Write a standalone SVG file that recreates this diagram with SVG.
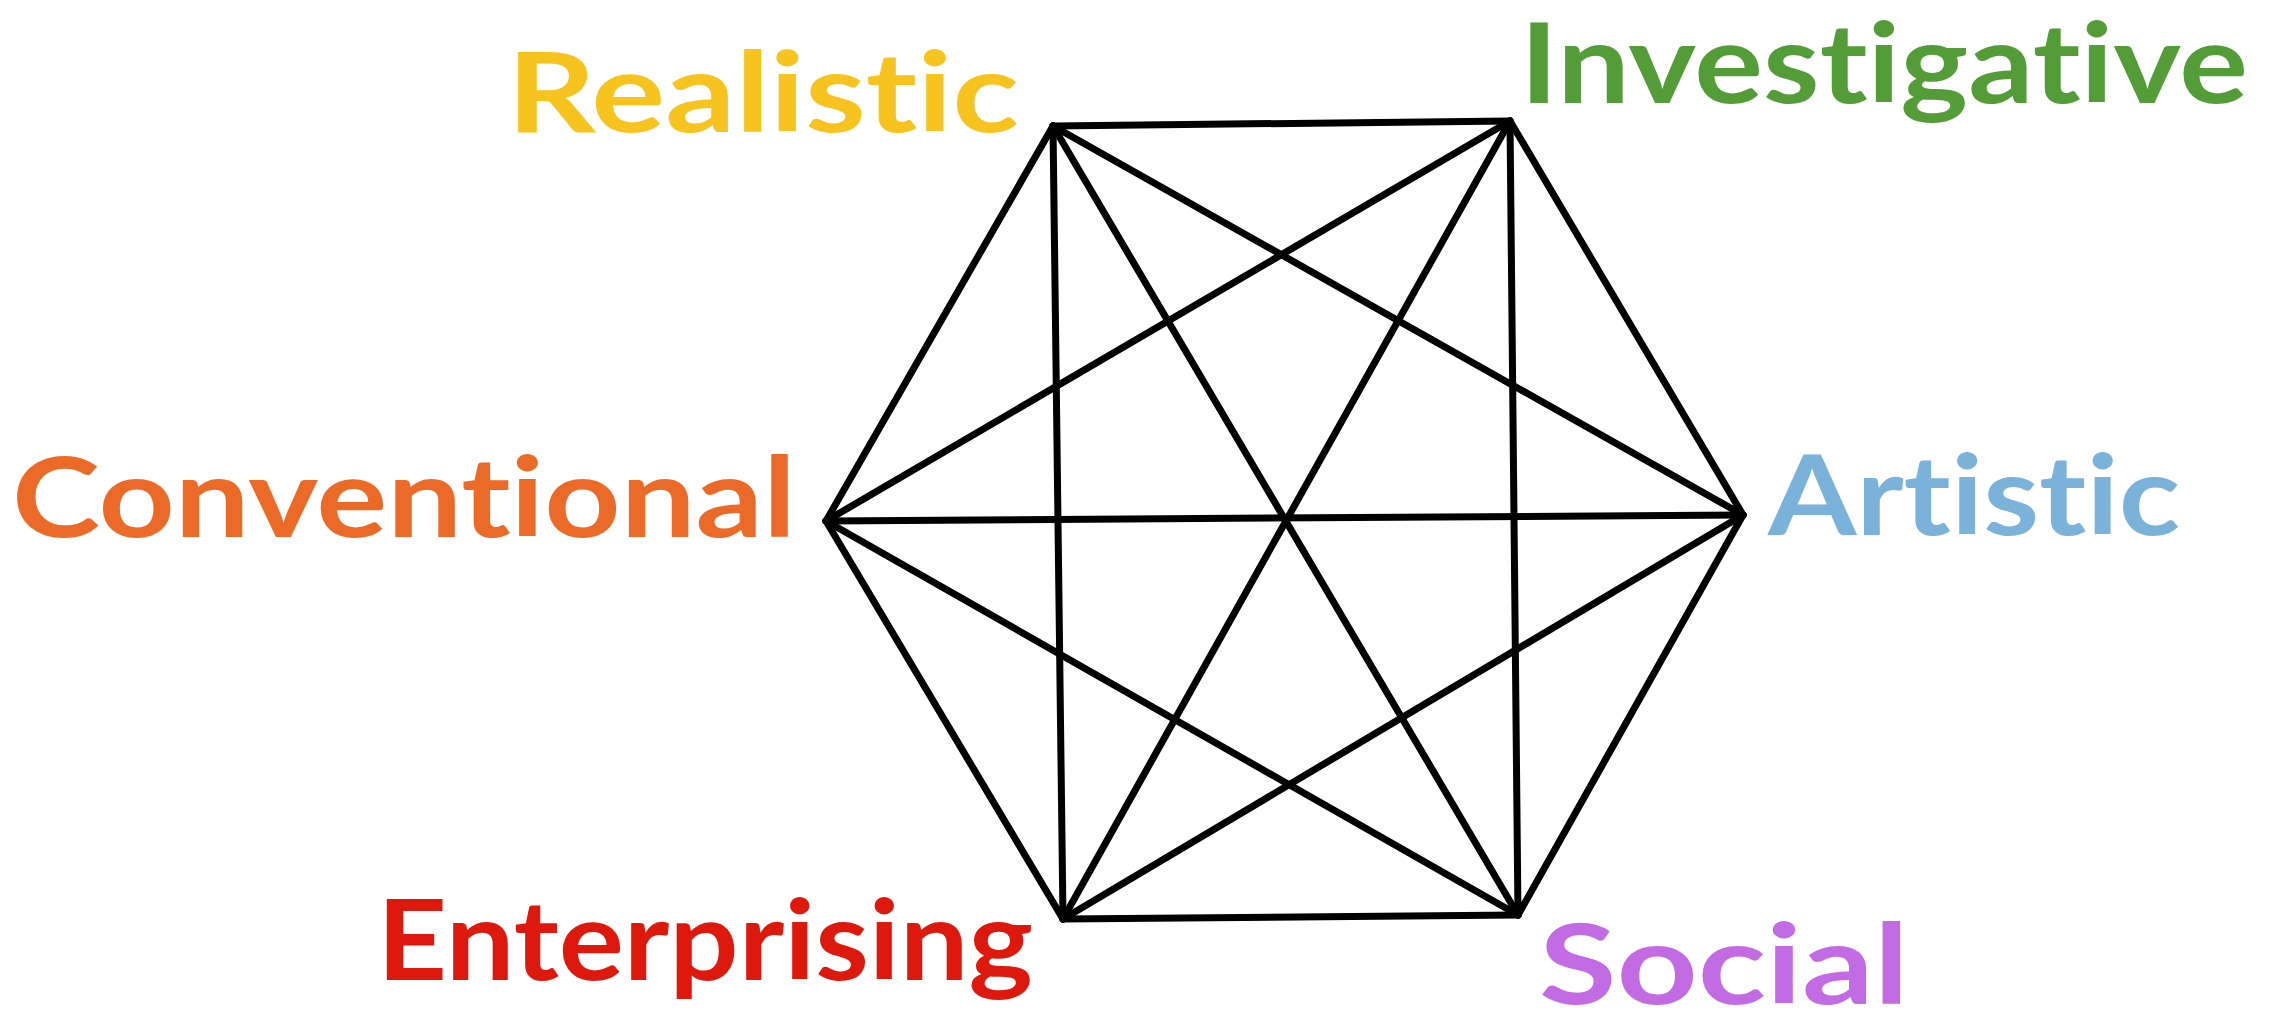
<svg xmlns="http://www.w3.org/2000/svg" width="2277" height="1016" viewBox="0 0 2277 1016">
<style>
.lbl{font-family:Lato,"Noto Sans","Liberation Sans",sans-serif;font-weight:700;font-size:112px;font-variant-ligatures:none;font-feature-settings:"liga" 0,"clig" 0}
.edge{stroke:#000;stroke-width:7;stroke-linecap:round;fill:none}
</style>
<rect width="2277" height="1016" fill="#fff"/>
<g id="connectors">
<line class="edge" x1="1053" y1="126" x2="1510" y2="121"/>
<line class="edge" x1="1053" y1="126" x2="1743" y2="515"/>
<line class="edge" x1="1053" y1="126" x2="1518" y2="915"/>
<line class="edge" x1="1053" y1="126" x2="1063" y2="919"/>
<line class="edge" x1="1053" y1="126" x2="826" y2="521"/>
<line class="edge" x1="1510" y1="121" x2="1743" y2="515"/>
<line class="edge" x1="1510" y1="121" x2="1518" y2="915"/>
<line class="edge" x1="1510" y1="121" x2="1063" y2="919"/>
<line class="edge" x1="1510" y1="121" x2="826" y2="521"/>
<line class="edge" x1="1743" y1="515" x2="1518" y2="915"/>
<line class="edge" x1="1743" y1="515" x2="1063" y2="919"/>
<line class="edge" x1="1743" y1="515" x2="826" y2="521"/>
<line class="edge" x1="1518" y1="915" x2="1063" y2="919"/>
<line class="edge" x1="1518" y1="915" x2="826" y2="521"/>
<line class="edge" x1="1063" y1="919" x2="826" y2="521"/>
</g>
<g id="realistic"><text class="lbl" x="507" y="132" fill="#F7C31E" textLength="512" lengthAdjust="spacingAndGlyphs">Realistic</text></g>
<g id="investigative"><text class="lbl" x="1520" y="103" fill="#539C38" textLength="728" lengthAdjust="spacingAndGlyphs">Investigative</text></g>
<g id="conventional"><text class="lbl" x="12" y="537" fill="#EC6A28" textLength="784" lengthAdjust="spacingAndGlyphs">Conventional</text></g>
<g id="artistic"><text class="lbl" x="1768" y="535" fill="#7AB2D9" textLength="412" lengthAdjust="spacingAndGlyphs">Artistic</text></g>
<g id="enterprising"><text class="lbl" x="377" y="980" fill="#DD180C" textLength="656" lengthAdjust="spacingAndGlyphs">Enterprising</text></g>
<g id="social"><text class="lbl" x="1539" y="1004" fill="#C36BE3" textLength="370" lengthAdjust="spacingAndGlyphs">Social</text></g>
</svg>
